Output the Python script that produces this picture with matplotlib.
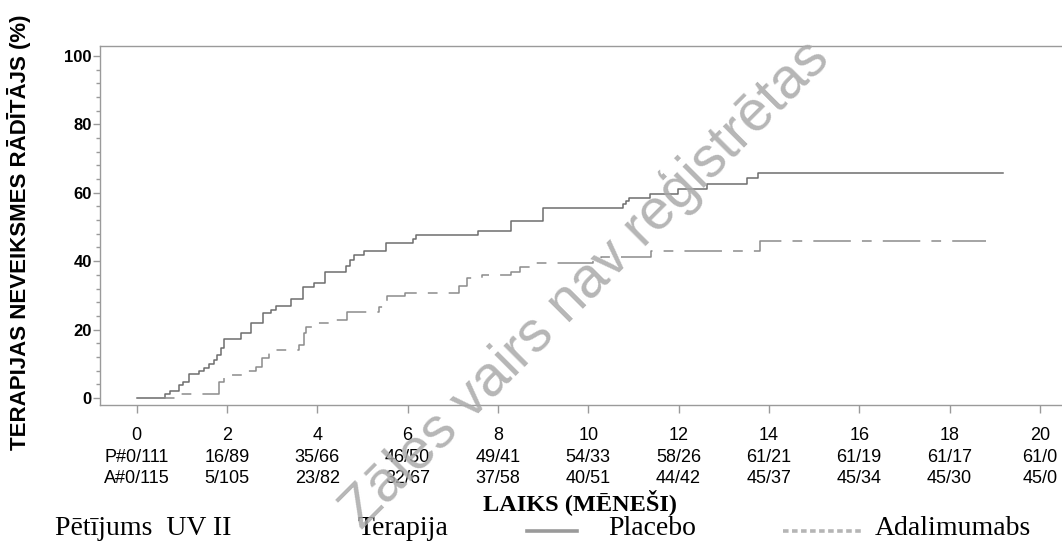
import matplotlib
matplotlib.use("Agg")
from matplotlib import pyplot as plt
from matplotlib.lines import Line2D
from matplotlib.ticker import MultipleLocator

# laiki (menesi) un kumulativais neveiksmes raditajs (%) - nolasits no attela
placebo_t = [0, 0.62, 0.73, 0.95, 1.02, 1.17, 1.39, 1.50, 1.61, 1.72, 1.79, 1.87, 1.94,
             2.31, 2.53, 2.79, 2.98, 3.09, 3.42, 3.68, 3.93, 4.18, 4.63, 4.72, 4.82,
             5.04, 5.53, 6.12, 6.18, 7.56, 8.30, 8.99, 10.78, 10.84, 10.90, 11.37,
             11.98, 12.64, 13.51, 13.77, 19.18]
placebo_y = [0, 1.2, 2.1, 3.8, 4.8, 6.9, 7.9, 8.9, 10.0, 11.0, 12.5, 14.5, 17.2,
             19.1, 21.8, 24.8, 25.7, 26.9, 28.9, 32.5, 33.7, 36.9, 38.6, 40.4, 41.8,
             43.1, 45.2, 46.4, 47.7, 48.8, 51.6, 55.5, 56.7, 57.7, 58.5, 59.6,
             61.0, 62.5, 64.2, 65.9, 65.9]

ada_t = [0, 0.95, 1.83, 1.94, 2.39, 2.65, 2.78, 2.94, 3.09, 3.60, 3.71, 3.76, 3.89,
         4.38, 4.65, 5.37, 5.54, 5.94, 7.14, 7.32, 7.65, 8.28, 8.50, 8.76, 10.10,
         10.28, 11.40, 13.80, 18.81]
ada_y = [0, 1.1, 4.8, 6.7, 8.0, 9.2, 11.6, 13.5, 14.0, 15.5, 18.9, 20.8, 21.8,
         22.8, 25.0, 26.7, 29.7, 30.7, 32.7, 35.0, 36.0, 36.9, 38.4, 39.5, 40.6,
         41.3, 43.1, 45.9, 45.9]

months = [0, 2, 4, 6, 8, 10, 12, 14, 16, 18, 20]
risk_p = ["P#0/111", "16/89", "35/66", "46/50", "49/41", "54/33", "58/26",
          "61/21", "61/19", "61/17", "61/0"]
risk_a = ["A#0/115", "5/105", "23/82", "32/67", "37/58", "40/51", "44/42",
          "45/37", "45/34", "45/30", "45/0"]

SANS = "Liberation Sans"
SERIF = "Liberation Serif"
plt.rcParams['font.family'] = [SANS, 'DejaVu Sans']
plt.rcParams['lines.scale_dashes'] = False

W, H = 1062, 547
fig = plt.figure(figsize=(W / 100, H / 100), dpi=100)
ax_bottom, ax_top = 405, 46
ax = fig.add_axes([100 / W, 1 - ax_bottom / H, 962 / W, (ax_bottom - ax_top) / H])

ax.step(placebo_t, placebo_y, where='post', color='#6e6e6e', linewidth=1.1)
ax.step(ada_t, ada_y, where='post', color='#8c8c8c', linewidth=1.1,
        linestyle=(0, (27, 8, 7, 8)))

ax.set_xlim(-0.81, 20.49)
ax.set_ylim(-2.05, 102.9)

for s in ['left', 'top', 'bottom']:
  ax.spines[s].set_color('#9a9a9a')
  ax.spines[s].set_linewidth(1.0)
ax.spines['right'].set_visible(False)

ax.set_xticks(months)
ax.set_xticklabels([str(m) for m in months], fontsize=13, color='#000000')
ax.set_yticks([0, 20, 40, 60, 80, 100])
ax.yaxis.set_minor_locator(MultipleLocator(4))
ax.tick_params(axis='x', direction='out', length=6, width=1, color='#9a9a9a', pad=10)
ax.tick_params(axis='y', which='major', direction='out', length=5, width=1,
               color='#9a9a9a', pad=1, labelsize=12)
ax.tick_params(axis='y', which='minor', direction='out', length=3, width=1,
               color='#9a9a9a')
for lbl in ax.get_yticklabels():
  lbl.set_fontweight('bold')

# pacientu skaits zem ass (notikumi / riskam pakļautie)
def axes_y(py):
  return (ax_bottom - py) / (ax_bottom - ax_top)

trans = ax.get_xaxis_transform()
for m, p, a in zip(months, risk_p, risk_a):
  ax.text(m, axes_y(461.5), p, transform=trans, ha='center', va='baseline',
          fontsize=13, color='#000000', clip_on=False)
  ax.text(m, axes_y(483), a, transform=trans, ha='center', va='baseline',
          fontsize=13, color='#000000', clip_on=False)

fig.text(19 / W, 1 - 232 / H, "TERAPIJAS NEVEIKSMES RĀDĪTĀJS (%)",
         rotation=90, ha='center', va='center', fontsize=16, fontweight='bold')

fig.text(580 / W, 1 - 510 / H, "LAIKS (MĒNEŠI)", ha='center', va='baseline',
         family=SERIF, fontsize=17.5, fontweight='bold')

# leģenda apakšā
ly = 1 - 535 / H
fig.text(55 / W, ly, "Pētījums  UV II", family=SERIF, fontsize=20, va='baseline')
fig.text(358 / W, ly, "Terapija", family=SERIF, fontsize=20, va='baseline')
fig.text(608 / W, ly, "Placebo", family=SERIF, fontsize=20, va='baseline')
fig.text(875 / W, ly, "Adalimumabs", family=SERIF, fontsize=20, va='baseline')
sy = 1 - 531 / H
fig.add_artist(Line2D([527 / W, 577 / W], [sy, sy], color='#9a9a9a', linewidth=2.6))
fig.add_artist(Line2D([783 / W, 863 / W], [sy, sy], color='#b5b5b5', linewidth=2.6,
                      linestyle=(0, (4, 2.5))))

# ūdenszīme
fig.text(585 / W, 1 - 284 / H, "Zāles vairs nav reģistrētas", rotation=45,
         rotation_mode='anchor', ha='center', va='center', fontsize=41,
         color='#a9a9a9', alpha=0.85, zorder=10)

fig.savefig("out.png", dpi=100)
